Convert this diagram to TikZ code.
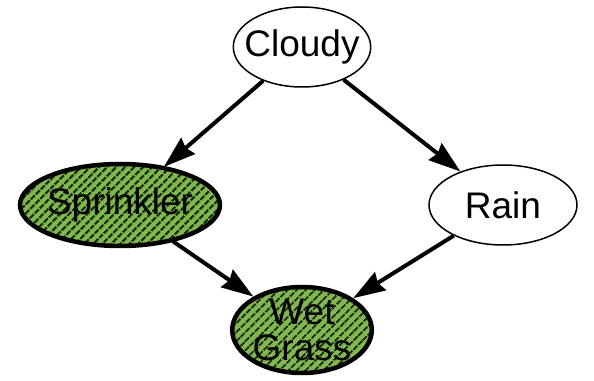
\documentclass[tikz,border=0pt]{standalone}
\usepackage{fontspec}
\setmainfont{Liberation Sans}
\usetikzlibrary{shapes.geometric,arrows.meta,patterns.meta}
\definecolor{grassgreen}{RGB}{128,184,76}
\definecolor{hatchdark}{RGB}{30,48,20}
\begin{document}
\begin{tikzpicture}[
    x=1pt, y=1pt,
    hidden/.style={
      ellipse, draw=black, line width=1.5pt, fill=white,
      inner sep=0pt, align=center,
      font=\fontsize{37}{36}\selectfont
    },
    observed/.style={
      hidden, line width=4.5pt,
      preaction={fill=grassgreen},
      pattern={Lines[angle=45, distance=6.5pt, line width=2.4pt]},
      pattern color=hatchdark
    },
    link/.style={-{Stealth[length=32pt, width=21pt, inset=3pt]}, line width=4pt, black}
  ]
    \useasboundingbox (0,0) rectangle (594,380);

    \node[hidden, minimum width=136, minimum height=80, inner xsep=-9pt] (cloudy) at (302,333) {Cloudy};
    \node[observed, minimum width=200, minimum height=82, inner xsep=-4pt] (sprinkler) at (120,175) {Sprinkler};
    \node[hidden, minimum width=148, minimum height=80] (rain) at (503,175) {Rain};
    \node[observed, minimum width=138, minimum height=86, inner ysep=-10pt] (wet) at (302,50) {Wet\\Grass};

    \draw[link] (cloudy) -- (sprinkler);
    \draw[link] (cloudy) -- (rain);
    \draw[link] (sprinkler) -- (wet);
    \draw[link] (rain) -- (wet);
  \end{tikzpicture}
\end{document}
